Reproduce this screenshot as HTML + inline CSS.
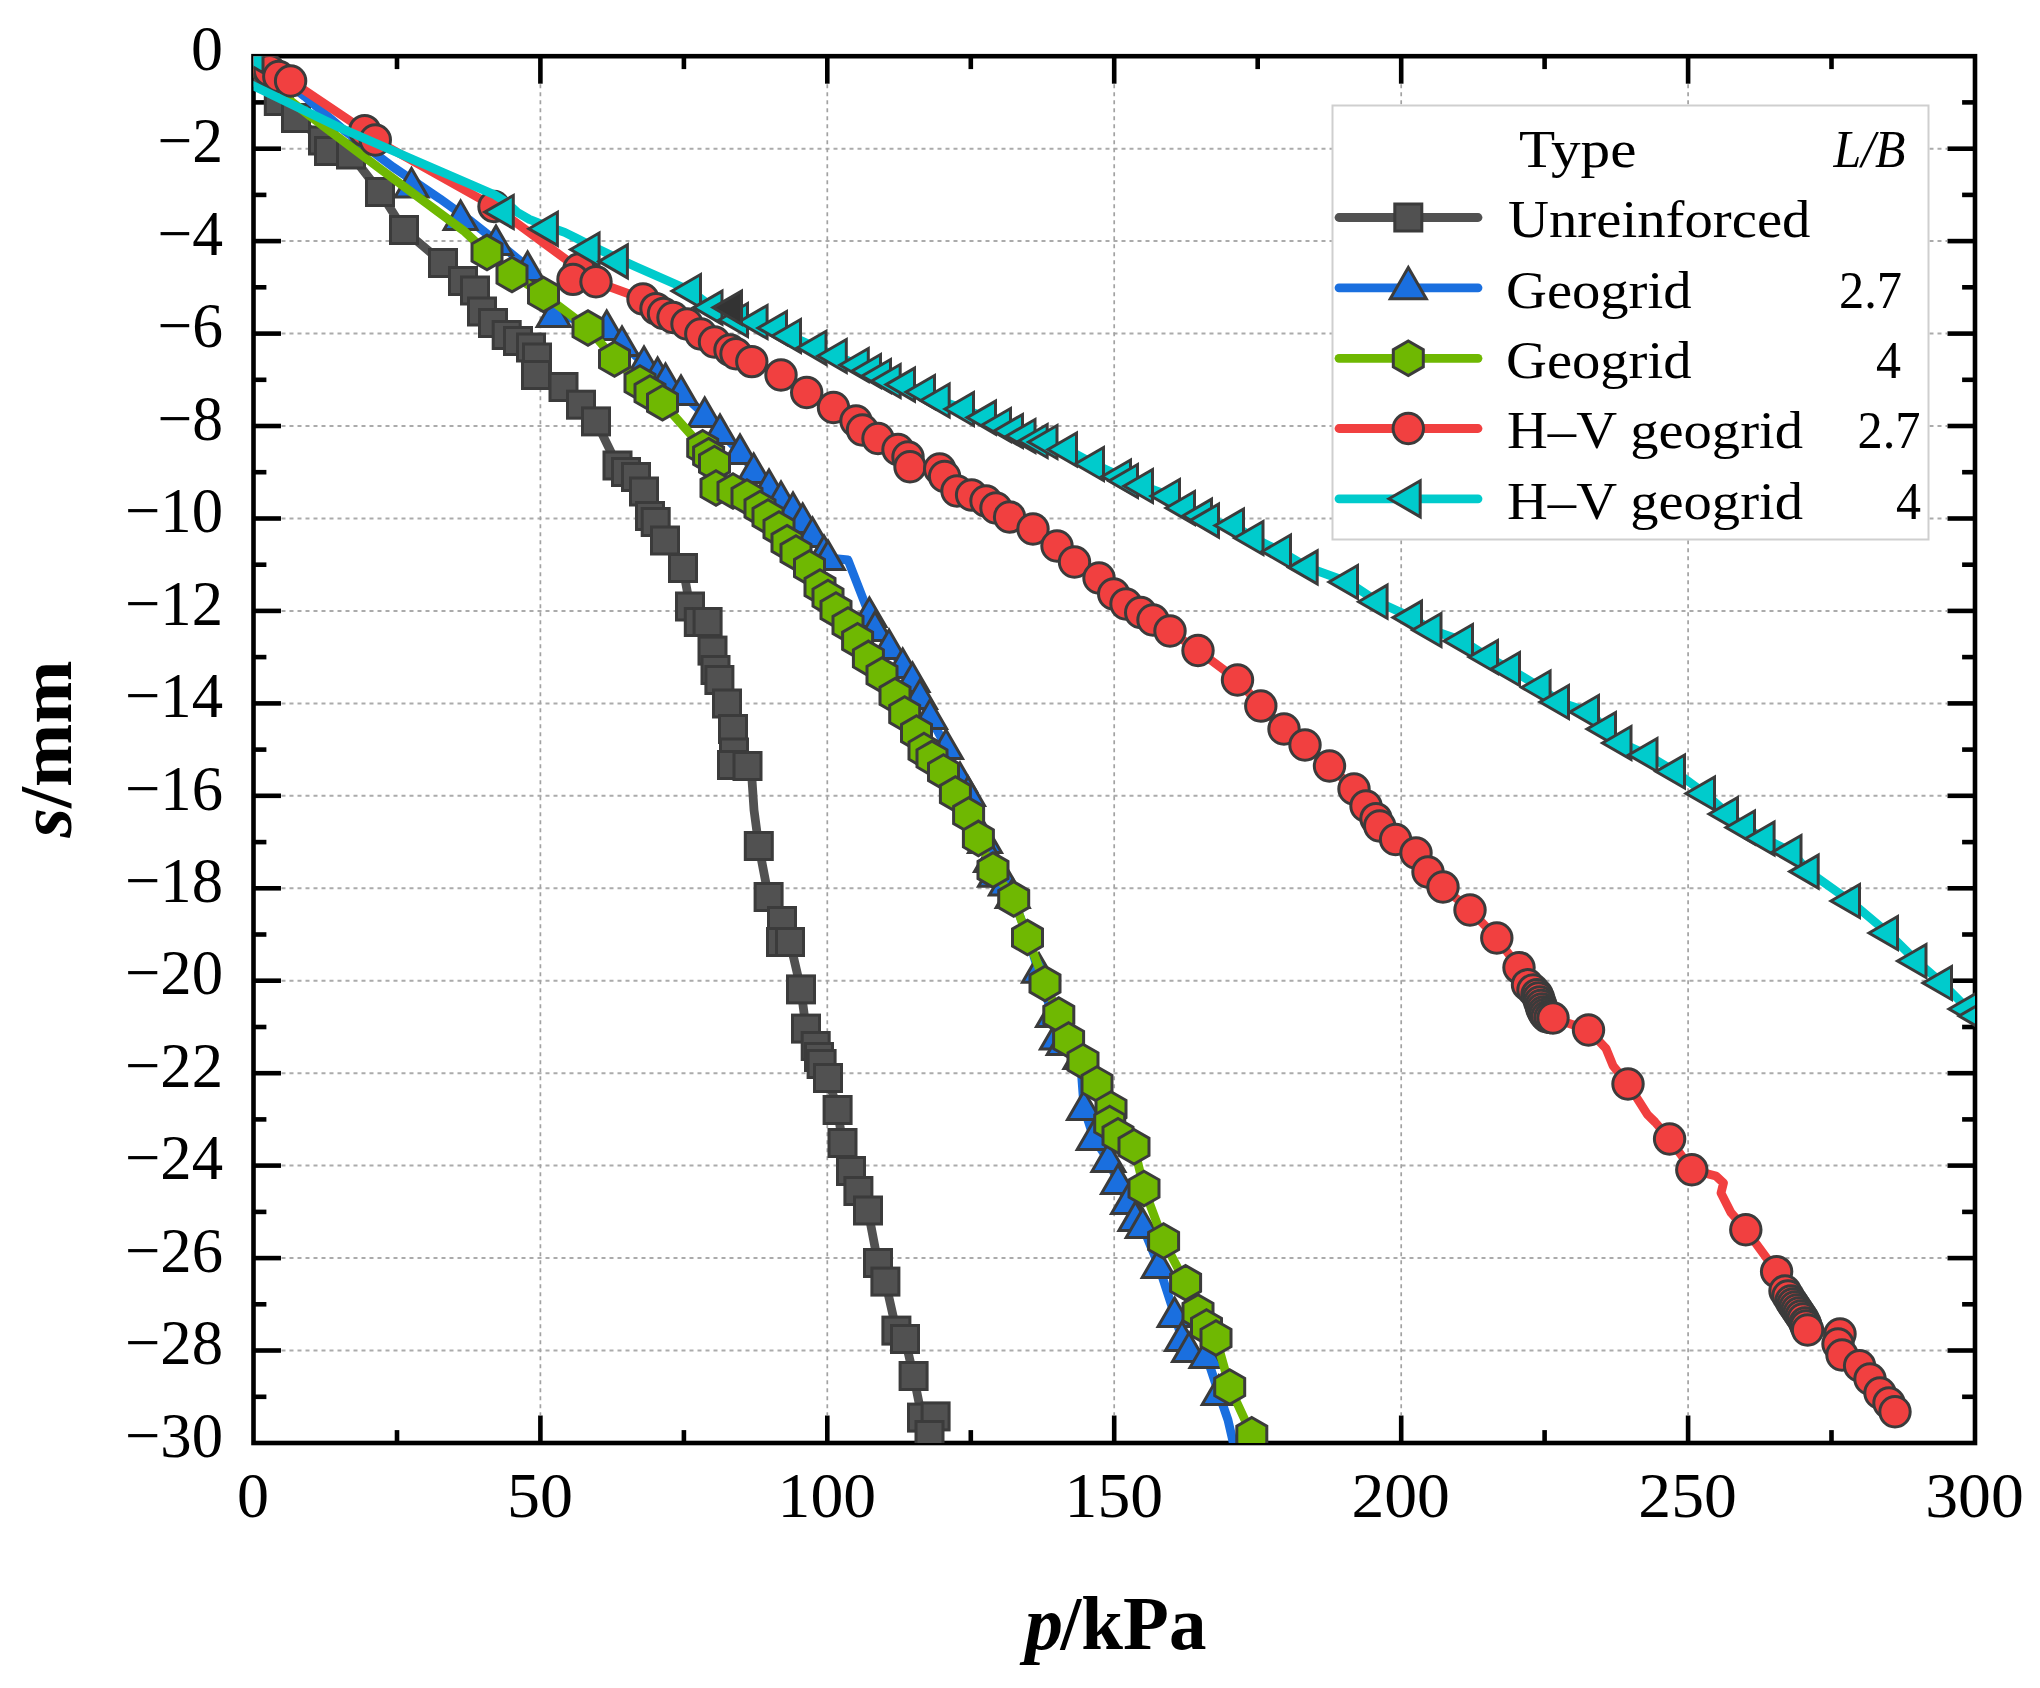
<!DOCTYPE html>
<html lang="en"><head><meta charset="utf-8"><title>Load-settlement curves</title>
<style>html,body{margin:0;padding:0;background:#fff}svg{display:block}text{font-family:"Liberation Serif","DejaVu Serif",serif;fill:#000}</style></head><body>
<svg width="2040" height="1688" viewBox="0 0 2040 1688">
<rect width="2040" height="1688" fill="#fff"/>
<defs><clipPath id="plot"><rect x="253.5" y="56.2" width="1721.5" height="1386.8"/></clipPath></defs>
<g stroke="#ababab" stroke-width="2" stroke-dasharray="4 4" fill="none">
<line x1="281.5" y1="1350.5" x2="1947" y2="1350.5"/>
<line x1="281.5" y1="1258.1" x2="1947" y2="1258.1"/>
<line x1="281.5" y1="1165.6" x2="1947" y2="1165.6"/>
<line x1="281.5" y1="1073.2" x2="1947" y2="1073.2"/>
<line x1="281.5" y1="980.7" x2="1947" y2="980.7"/>
<line x1="281.5" y1="888.3" x2="1947" y2="888.3"/>
<line x1="281.5" y1="795.8" x2="1947" y2="795.8"/>
<line x1="281.5" y1="703.4" x2="1947" y2="703.4"/>
<line x1="281.5" y1="610.9" x2="1947" y2="610.9"/>
<line x1="281.5" y1="518.5" x2="1947" y2="518.5"/>
<line x1="281.5" y1="426" x2="1947" y2="426"/>
<line x1="281.5" y1="333.6" x2="1947" y2="333.6"/>
<line x1="281.5" y1="241.1" x2="1947" y2="241.1"/>
<line x1="281.5" y1="148.7" x2="1947" y2="148.7"/>
</g>
<g stroke="#a2a2a2" stroke-width="1.7" stroke-dasharray="4 4" fill="none">
<line x1="540.4" y1="84.2" x2="540.4" y2="1415"/>
<line x1="827.3" y1="84.2" x2="827.3" y2="1415"/>
<line x1="1114.2" y1="84.2" x2="1114.2" y2="1415"/>
<line x1="1401.2" y1="84.2" x2="1401.2" y2="1415"/>
<line x1="1688.1" y1="84.2" x2="1688.1" y2="1415"/>
</g>
<g stroke="#000" stroke-width="4.6" fill="none" stroke-linecap="butt">
<line x1="253.5" y1="102.4" x2="266.4" y2="102.4"/>
<line x1="1975" y1="102.4" x2="1962.1" y2="102.4"/>
<line x1="253.5" y1="148.7" x2="281" y2="148.7"/>
<line x1="1975" y1="148.7" x2="1947.5" y2="148.7"/>
<line x1="253.5" y1="194.9" x2="266.4" y2="194.9"/>
<line x1="1975" y1="194.9" x2="1962.1" y2="194.9"/>
<line x1="253.5" y1="241.1" x2="281" y2="241.1"/>
<line x1="1975" y1="241.1" x2="1947.5" y2="241.1"/>
<line x1="253.5" y1="287.3" x2="266.4" y2="287.3"/>
<line x1="1975" y1="287.3" x2="1962.1" y2="287.3"/>
<line x1="253.5" y1="333.6" x2="281" y2="333.6"/>
<line x1="1975" y1="333.6" x2="1947.5" y2="333.6"/>
<line x1="253.5" y1="379.8" x2="266.4" y2="379.8"/>
<line x1="1975" y1="379.8" x2="1962.1" y2="379.8"/>
<line x1="253.5" y1="426" x2="281" y2="426"/>
<line x1="1975" y1="426" x2="1947.5" y2="426"/>
<line x1="253.5" y1="472.2" x2="266.4" y2="472.2"/>
<line x1="1975" y1="472.2" x2="1962.1" y2="472.2"/>
<line x1="253.5" y1="518.5" x2="281" y2="518.5"/>
<line x1="1975" y1="518.5" x2="1947.5" y2="518.5"/>
<line x1="253.5" y1="564.7" x2="266.4" y2="564.7"/>
<line x1="1975" y1="564.7" x2="1962.1" y2="564.7"/>
<line x1="253.5" y1="610.9" x2="281" y2="610.9"/>
<line x1="1975" y1="610.9" x2="1947.5" y2="610.9"/>
<line x1="253.5" y1="657.1" x2="266.4" y2="657.1"/>
<line x1="1975" y1="657.1" x2="1962.1" y2="657.1"/>
<line x1="253.5" y1="703.4" x2="281" y2="703.4"/>
<line x1="1975" y1="703.4" x2="1947.5" y2="703.4"/>
<line x1="253.5" y1="749.6" x2="266.4" y2="749.6"/>
<line x1="1975" y1="749.6" x2="1962.1" y2="749.6"/>
<line x1="253.5" y1="795.8" x2="281" y2="795.8"/>
<line x1="1975" y1="795.8" x2="1947.5" y2="795.8"/>
<line x1="253.5" y1="842.1" x2="266.4" y2="842.1"/>
<line x1="1975" y1="842.1" x2="1962.1" y2="842.1"/>
<line x1="253.5" y1="888.3" x2="281" y2="888.3"/>
<line x1="1975" y1="888.3" x2="1947.5" y2="888.3"/>
<line x1="253.5" y1="934.5" x2="266.4" y2="934.5"/>
<line x1="1975" y1="934.5" x2="1962.1" y2="934.5"/>
<line x1="253.5" y1="980.7" x2="281" y2="980.7"/>
<line x1="1975" y1="980.7" x2="1947.5" y2="980.7"/>
<line x1="253.5" y1="1027" x2="266.4" y2="1027"/>
<line x1="1975" y1="1027" x2="1962.1" y2="1027"/>
<line x1="253.5" y1="1073.2" x2="281" y2="1073.2"/>
<line x1="1975" y1="1073.2" x2="1947.5" y2="1073.2"/>
<line x1="253.5" y1="1119.4" x2="266.4" y2="1119.4"/>
<line x1="1975" y1="1119.4" x2="1962.1" y2="1119.4"/>
<line x1="253.5" y1="1165.6" x2="281" y2="1165.6"/>
<line x1="1975" y1="1165.6" x2="1947.5" y2="1165.6"/>
<line x1="253.5" y1="1211.9" x2="266.4" y2="1211.9"/>
<line x1="1975" y1="1211.9" x2="1962.1" y2="1211.9"/>
<line x1="253.5" y1="1258.1" x2="281" y2="1258.1"/>
<line x1="1975" y1="1258.1" x2="1947.5" y2="1258.1"/>
<line x1="253.5" y1="1304.3" x2="266.4" y2="1304.3"/>
<line x1="1975" y1="1304.3" x2="1962.1" y2="1304.3"/>
<line x1="253.5" y1="1350.5" x2="281" y2="1350.5"/>
<line x1="1975" y1="1350.5" x2="1947.5" y2="1350.5"/>
<line x1="253.5" y1="1396.8" x2="266.4" y2="1396.8"/>
<line x1="1975" y1="1396.8" x2="1962.1" y2="1396.8"/>
<line x1="397" y1="56.2" x2="397" y2="69.1"/>
<line x1="397" y1="1443" x2="397" y2="1430.1"/>
<line x1="540.4" y1="56.2" x2="540.4" y2="83.7"/>
<line x1="540.4" y1="1443" x2="540.4" y2="1415.5"/>
<line x1="683.9" y1="56.2" x2="683.9" y2="69.1"/>
<line x1="683.9" y1="1443" x2="683.9" y2="1430.1"/>
<line x1="827.3" y1="56.2" x2="827.3" y2="83.7"/>
<line x1="827.3" y1="1443" x2="827.3" y2="1415.5"/>
<line x1="970.8" y1="56.2" x2="970.8" y2="69.1"/>
<line x1="970.8" y1="1443" x2="970.8" y2="1430.1"/>
<line x1="1114.2" y1="56.2" x2="1114.2" y2="83.7"/>
<line x1="1114.2" y1="1443" x2="1114.2" y2="1415.5"/>
<line x1="1257.7" y1="56.2" x2="1257.7" y2="69.1"/>
<line x1="1257.7" y1="1443" x2="1257.7" y2="1430.1"/>
<line x1="1401.2" y1="56.2" x2="1401.2" y2="83.7"/>
<line x1="1401.2" y1="1443" x2="1401.2" y2="1415.5"/>
<line x1="1544.6" y1="56.2" x2="1544.6" y2="69.1"/>
<line x1="1544.6" y1="1443" x2="1544.6" y2="1430.1"/>
<line x1="1688.1" y1="56.2" x2="1688.1" y2="83.7"/>
<line x1="1688.1" y1="1443" x2="1688.1" y2="1415.5"/>
<line x1="1831.5" y1="56.2" x2="1831.5" y2="69.1"/>
<line x1="1831.5" y1="1443" x2="1831.5" y2="1430.1"/>
<rect x="253.5" y="56.2" width="1721.5" height="1386.8" stroke-linejoin="miter"/>
</g>
<g clip-path="url(#plot)">
<g id="s-gray">
<polyline points="253.5,56.2 262,72 278.8,101 296,118 323,140.5 329,151 351,154.5 380,192 404,230 443,263 463,281 475,290.5 482,311.5 493,323 506.7,335 518,341 531,347.5 537,357.5 536,375 563.5,387 581,404.7 596,421.4 617.5,465.5 626,472 636,477 644,491.5 650,516 655.7,522 665,540.5 683,568 690,606.5 698.8,622 707.6,622 712.5,650.6 715.5,670 719.4,680 727,703.5 733,729 734,752.5 732,765 747.5,766 752,780 754,810 758.8,846 768.6,897 782,921 781,942 790,942 801,989.4 806,1028.6 815.7,1046 819,1057 821.6,1064 828,1078 837.6,1110 842.5,1143 851,1171 858.4,1191 868,1210.5 878,1263 885.4,1281.6 896.4,1330.6 905,1339 913.6,1376 922,1417.6 935.6,1416.4 929.5,1435 940,1446" fill="none" stroke="#515151" stroke-width="8.8" stroke-linejoin="round" stroke-linecap="round"/>
<g stroke="#3b3b3b" stroke-width="3.0" stroke-linejoin="miter">
<rect x="248.5" y="58.5" width="27" height="27" fill="#515151"/>
<rect x="265.3" y="87.5" width="27" height="27" fill="#515151"/>
<rect x="282.5" y="104.5" width="27" height="27" fill="#515151"/>
<rect x="309.5" y="127" width="27" height="27" fill="#515151"/>
<rect x="315.5" y="137.5" width="27" height="27" fill="#515151"/>
<rect x="337.5" y="141" width="27" height="27" fill="#515151"/>
<rect x="366.5" y="178.5" width="27" height="27" fill="#515151"/>
<rect x="390.5" y="216.5" width="27" height="27" fill="#515151"/>
<rect x="429.5" y="249.5" width="27" height="27" fill="#515151"/>
<rect x="449.5" y="267.5" width="27" height="27" fill="#515151"/>
<rect x="461.5" y="277" width="27" height="27" fill="#515151"/>
<rect x="468.5" y="298" width="27" height="27" fill="#515151"/>
<rect x="479.5" y="309.5" width="27" height="27" fill="#515151"/>
<rect x="493.2" y="321.5" width="27" height="27" fill="#515151"/>
<rect x="504.5" y="327.5" width="27" height="27" fill="#515151"/>
<rect x="517.5" y="334" width="27" height="27" fill="#515151"/>
<rect x="523.5" y="344" width="27" height="27" fill="#515151"/>
<rect x="522.5" y="361.5" width="27" height="27" fill="#515151"/>
<rect x="550" y="373.5" width="27" height="27" fill="#515151"/>
<rect x="567.5" y="391.2" width="27" height="27" fill="#515151"/>
<rect x="582.5" y="407.9" width="27" height="27" fill="#515151"/>
<rect x="604" y="452" width="27" height="27" fill="#515151"/>
<rect x="612.5" y="458.5" width="27" height="27" fill="#515151"/>
<rect x="622.5" y="463.5" width="27" height="27" fill="#515151"/>
<rect x="630.5" y="478" width="27" height="27" fill="#515151"/>
<rect x="636.5" y="502.5" width="27" height="27" fill="#515151"/>
<rect x="642.2" y="508.5" width="27" height="27" fill="#515151"/>
<rect x="651.5" y="527" width="27" height="27" fill="#515151"/>
<rect x="669.5" y="554.5" width="27" height="27" fill="#515151"/>
<rect x="676.5" y="593" width="27" height="27" fill="#515151"/>
<rect x="685.3" y="608.5" width="27" height="27" fill="#515151"/>
<rect x="694.1" y="608.5" width="27" height="27" fill="#515151"/>
<rect x="699" y="637.1" width="27" height="27" fill="#515151"/>
<rect x="702" y="656.5" width="27" height="27" fill="#515151"/>
<rect x="705.9" y="666.5" width="27" height="27" fill="#515151"/>
<rect x="713.5" y="690" width="27" height="27" fill="#515151"/>
<rect x="719.5" y="715.5" width="27" height="27" fill="#515151"/>
<rect x="720.5" y="739" width="27" height="27" fill="#515151"/>
<rect x="718.5" y="751.5" width="27" height="27" fill="#515151"/>
<rect x="734" y="752.5" width="27" height="27" fill="#515151"/>
<rect x="745.3" y="832.5" width="27" height="27" fill="#515151"/>
<rect x="755.1" y="883.5" width="27" height="27" fill="#515151"/>
<rect x="768.5" y="907.5" width="27" height="27" fill="#515151"/>
<rect x="767.5" y="928.5" width="27" height="27" fill="#515151"/>
<rect x="776.5" y="928.5" width="27" height="27" fill="#515151"/>
<rect x="787.5" y="975.9" width="27" height="27" fill="#515151"/>
<rect x="792.5" y="1015.1" width="27" height="27" fill="#515151"/>
<rect x="802.2" y="1032.5" width="27" height="27" fill="#515151"/>
<rect x="805.5" y="1043.5" width="27" height="27" fill="#515151"/>
<rect x="808.1" y="1050.5" width="27" height="27" fill="#515151"/>
<rect x="814.5" y="1064.5" width="27" height="27" fill="#515151"/>
<rect x="824.1" y="1096.5" width="27" height="27" fill="#515151"/>
<rect x="829" y="1129.5" width="27" height="27" fill="#515151"/>
<rect x="837.5" y="1157.5" width="27" height="27" fill="#515151"/>
<rect x="844.9" y="1177.5" width="27" height="27" fill="#515151"/>
<rect x="854.5" y="1197" width="27" height="27" fill="#515151"/>
<rect x="864.5" y="1249.5" width="27" height="27" fill="#515151"/>
<rect x="871.9" y="1268.1" width="27" height="27" fill="#515151"/>
<rect x="882.9" y="1317.1" width="27" height="27" fill="#515151"/>
<rect x="891.5" y="1325.5" width="27" height="27" fill="#515151"/>
<rect x="900.1" y="1362.5" width="27" height="27" fill="#515151"/>
<rect x="908.5" y="1404.1" width="27" height="27" fill="#515151"/>
<rect x="922.1" y="1402.9" width="27" height="27" fill="#515151"/>
<rect x="916" y="1421.5" width="27" height="27" fill="#515151"/>
</g></g>
<g id="s-blue">
<polyline points="253.5,56.2 304.7,96.5 346,131.8 393,167 440,198.8 469.4,220 496,241 527.6,267 553.7,314 606.7,327 622,343 644,363.5 657.6,375 665.5,381 681,393 704.7,414.5 720,432 740,451.8 753.7,471 769,487 781,498.8 793,510.6 802.7,522 812.5,536 824,553.7 828,558 848,560 869.4,615 875,629 889,646.7 902.7,666 912.5,680 920,697.6 930,717 946,746.7 960,782 968,796 972,818 985,843 991,862 995,876.7 1005.9,885.5 1012.7,898 1027,934 1039,972.7 1053,1017 1056.9,1039.4 1063.7,1045 1080.4,1059 1084,1107.6 1093.7,1138 1108.4,1160 1118,1182 1128,1202 1135.4,1219 1142.7,1226.5 1158.7,1265.7 1174.6,1314.7 1182,1339 1189,1350 1206.5,1356 1218.7,1393 1228,1420 1234,1446" fill="none" stroke="#1A6FDF" stroke-width="8.8" stroke-linejoin="round" stroke-linecap="round"/>
<g stroke="#3b3b3b" stroke-width="3.0" stroke-linejoin="miter">
<polygon points="411.5,168.5 428,197 395,197" fill="#1A6FDF"/>
<polygon points="460.6,201 477.1,229.5 444.1,229.5" fill="#1A6FDF"/>
<polygon points="496,226 512.5,254.5 479.5,254.5" fill="#1A6FDF"/>
<polygon points="527.6,252 544.1,280.5 511.1,280.5" fill="#1A6FDF"/>
<polygon points="553.7,298 570.2,326.5 537.2,326.5" fill="#1A6FDF"/>
<polygon points="606.7,311 623.2,339.5 590.2,339.5" fill="#1A6FDF"/>
<polygon points="622,327 638.5,355.5 605.5,355.5" fill="#1A6FDF"/>
<polygon points="644,347 660.5,375.5 627.5,375.5" fill="#1A6FDF"/>
<polygon points="657.6,358 674.1,386.5 641.1,386.5" fill="#1A6FDF"/>
<polygon points="665.5,364 682,392.5 649,392.5" fill="#1A6FDF"/>
<polygon points="681,376 697.5,404.5 664.5,404.5" fill="#1A6FDF"/>
<polygon points="704.7,398 721.2,426.5 688.2,426.5" fill="#1A6FDF"/>
<polygon points="720,415 736.5,443.5 703.5,443.5" fill="#1A6FDF"/>
<polygon points="740,435 756.5,463.5 723.5,463.5" fill="#1A6FDF"/>
<polygon points="753.7,454 770.2,482.5 737.2,482.5" fill="#1A6FDF"/>
<polygon points="769,470 785.5,498.5 752.5,498.5" fill="#1A6FDF"/>
<polygon points="781,482 797.5,510.5 764.5,510.5" fill="#1A6FDF"/>
<polygon points="793,493 809.5,521.5 776.5,521.5" fill="#1A6FDF"/>
<polygon points="802.7,504 819.2,532.5 786.2,532.5" fill="#1A6FDF"/>
<polygon points="812.5,518 829,546.5 796,546.5" fill="#1A6FDF"/>
<polygon points="824,536 840.5,564.5 807.5,564.5" fill="#1A6FDF"/>
<polygon points="828,541 844.5,569.5 811.5,569.5" fill="#1A6FDF"/>
<polygon points="869.4,598 885.9,626.5 852.9,626.5" fill="#1A6FDF"/>
<polygon points="875,612 891.5,640.5 858.5,640.5" fill="#1A6FDF"/>
<polygon points="889,630 905.5,658.5 872.5,658.5" fill="#1A6FDF"/>
<polygon points="902.7,649 919.2,677.5 886.2,677.5" fill="#1A6FDF"/>
<polygon points="912.5,663 929,691.5 896,691.5" fill="#1A6FDF"/>
<polygon points="920,680 936.5,708.5 903.5,708.5" fill="#1A6FDF"/>
<polygon points="930,700 946.5,728.5 913.5,728.5" fill="#1A6FDF"/>
<polygon points="946,730 962.5,758.5 929.5,758.5" fill="#1A6FDF"/>
<polygon points="960,763 976.5,791.5 943.5,791.5" fill="#1A6FDF"/>
<polygon points="968,777 984.5,805.5 951.5,805.5" fill="#1A6FDF"/>
<polygon points="985,824 1001.5,852.5 968.5,852.5" fill="#1A6FDF"/>
<polygon points="991,843 1007.5,871.5 974.5,871.5" fill="#1A6FDF"/>
<polygon points="995,857.7 1011.5,886.2 978.5,886.2" fill="#1A6FDF"/>
<polygon points="1005.9,866.5 1022.4,895 989.4,895" fill="#1A6FDF"/>
<polygon points="1012.7,879 1029.2,907.5 996.2,907.5" fill="#1A6FDF"/>
<polygon points="1039,953.7 1055.5,982.2 1022.5,982.2" fill="#1A6FDF"/>
<polygon points="1053,998 1069.5,1026.5 1036.5,1026.5" fill="#1A6FDF"/>
<polygon points="1056.9,1020.4 1073.4,1048.9 1040.4,1048.9" fill="#1A6FDF"/>
<polygon points="1063.7,1026 1080.2,1054.5 1047.2,1054.5" fill="#1A6FDF"/>
<polygon points="1080.4,1040 1096.9,1068.5 1063.9,1068.5" fill="#1A6FDF"/>
<polygon points="1084,1091 1100.5,1119.5 1067.5,1119.5" fill="#1A6FDF"/>
<polygon points="1093.7,1121 1110.2,1149.5 1077.2,1149.5" fill="#1A6FDF"/>
<polygon points="1108.4,1143 1124.9,1171.5 1091.9,1171.5" fill="#1A6FDF"/>
<polygon points="1118,1165 1134.5,1193.5 1101.5,1193.5" fill="#1A6FDF"/>
<polygon points="1128,1185 1144.5,1213.5 1111.5,1213.5" fill="#1A6FDF"/>
<polygon points="1135.4,1202 1151.9,1230.5 1118.9,1230.5" fill="#1A6FDF"/>
<polygon points="1142.7,1209 1159.2,1237.5 1126.2,1237.5" fill="#1A6FDF"/>
<polygon points="1158.7,1249 1175.2,1277.5 1142.2,1277.5" fill="#1A6FDF"/>
<polygon points="1174.6,1298 1191.1,1326.5 1158.1,1326.5" fill="#1A6FDF"/>
<polygon points="1182,1322 1198.5,1350.5 1165.5,1350.5" fill="#1A6FDF"/>
<polygon points="1189,1333 1205.5,1361.5 1172.5,1361.5" fill="#1A6FDF"/>
<polygon points="1206.5,1339 1223,1367.5 1190,1367.5" fill="#1A6FDF"/>
<polygon points="1218.7,1376 1235.2,1404.5 1202.2,1404.5" fill="#1A6FDF"/>
</g></g>
<g id="s-green">
<polyline points="253.5,72 310.6,116.5 381,169.4 463.5,230.6 487,252.4 512,274.5 543.5,294.5 588,328 614.5,359 640,383 650,393 662.5,402.7 702.7,447.8 708.6,455.7 714.5,463.5 716,488 733,491 747,497 760,508.5 768,517 779,529 787,542.7 796,553 809.5,568 820,587 828,597.6 836,610 848,625 857.6,640.8 868.4,658.4 882,675 895,695.7 904.7,714 916.5,733 924,750.6 932,758.4 943.5,772 955.4,794 968.6,815 978.4,838.4 993,870 1013.7,899 1027.5,937.5 1045,983.5 1058.8,1015 1068.6,1040 1083,1061.5 1097,1084 1111,1109 1109.7,1123.5 1118,1135.8 1134,1146.8 1144,1188.5 1163.6,1241 1185.6,1282.8 1198,1312 1206.5,1327 1216,1338 1229.7,1387 1251.8,1434.8 1255,1446" fill="none" stroke="#6FB802" stroke-width="8.8" stroke-linejoin="round" stroke-linecap="round"/>
<g stroke="#3b3b3b" stroke-width="3.0" stroke-linejoin="miter">
<polygon points="487,235.1 502,243.8 502,261.1 487,269.7 472,261.1 472,243.8" fill="#6FB802"/>
<polygon points="512,257.2 527,265.9 527,283.1 512,291.8 497,283.2 497,265.9" fill="#6FB802"/>
<polygon points="543.5,277.2 558.5,285.9 558.5,303.1 543.5,311.8 528.5,303.2 528.5,285.9" fill="#6FB802"/>
<polygon points="588,310.7 603,319.4 603,336.6 588,345.3 573,336.7 573,319.4" fill="#6FB802"/>
<polygon points="614.5,341.7 629.5,350.4 629.5,367.6 614.5,376.3 599.5,367.7 599.5,350.4" fill="#6FB802"/>
<polygon points="640,365.7 655,374.4 655,391.6 640,400.3 625,391.7 625,374.4" fill="#6FB802"/>
<polygon points="650,375.7 665,384.4 665,401.6 650,410.3 635,401.7 635,384.4" fill="#6FB802"/>
<polygon points="662.5,385.4 677.5,394.1 677.5,411.3 662.5,420 647.5,411.4 647.5,394.1" fill="#6FB802"/>
<polygon points="702.7,430.5 717.7,439.2 717.7,456.4 702.7,465.1 687.7,456.5 687.7,439.2" fill="#6FB802"/>
<polygon points="708.6,438.4 723.6,447.1 723.6,464.3 708.6,473 693.6,464.4 693.6,447.1" fill="#6FB802"/>
<polygon points="714.5,446.2 729.5,454.9 729.5,472.1 714.5,480.8 699.5,472.2 699.5,454.9" fill="#6FB802"/>
<polygon points="716,470.7 731,479.4 731,496.6 716,505.3 701,496.7 701,479.4" fill="#6FB802"/>
<polygon points="733,473.7 748,482.4 748,499.6 733,508.3 718,499.7 718,482.4" fill="#6FB802"/>
<polygon points="747,479.7 762,488.4 762,505.6 747,514.3 732,505.7 732,488.4" fill="#6FB802"/>
<polygon points="760,491.2 775,499.9 775,517.1 760,525.8 745,517.1 745,499.9" fill="#6FB802"/>
<polygon points="768,499.7 783,508.4 783,525.6 768,534.3 753,525.6 753,508.4" fill="#6FB802"/>
<polygon points="779,511.7 794,520.4 794,537.6 779,546.3 764,537.6 764,520.4" fill="#6FB802"/>
<polygon points="787,525.4 802,534.1 802,551.4 787,560 772,551.4 772,534.1" fill="#6FB802"/>
<polygon points="796,535.7 811,544.4 811,561.6 796,570.3 781,561.6 781,544.4" fill="#6FB802"/>
<polygon points="809.5,550.7 824.5,559.4 824.5,576.6 809.5,585.3 794.5,576.6 794.5,559.4" fill="#6FB802"/>
<polygon points="820,569.7 835,578.4 835,595.6 820,604.3 805,595.6 805,578.4" fill="#6FB802"/>
<polygon points="828,580.3 843,589 843,606.2 828,614.9 813,606.2 813,589" fill="#6FB802"/>
<polygon points="836,592.7 851,601.4 851,618.6 836,627.3 821,618.6 821,601.4" fill="#6FB802"/>
<polygon points="848,607.7 863,616.4 863,633.6 848,642.3 833,633.6 833,616.4" fill="#6FB802"/>
<polygon points="857.6,623.5 872.6,632.1 872.6,649.4 857.6,658.1 842.6,649.4 842.6,632.1" fill="#6FB802"/>
<polygon points="868.4,641.1 883.4,649.8 883.4,667 868.4,675.7 853.4,667 853.4,649.8" fill="#6FB802"/>
<polygon points="882,657.7 897,666.4 897,683.6 882,692.3 867,683.6 867,666.4" fill="#6FB802"/>
<polygon points="895,678.4 910,687.1 910,704.4 895,713 880,704.4 880,687.1" fill="#6FB802"/>
<polygon points="904.7,696.7 919.7,705.4 919.7,722.6 904.7,731.3 889.7,722.6 889.7,705.4" fill="#6FB802"/>
<polygon points="916.5,715.7 931.5,724.4 931.5,741.6 916.5,750.3 901.5,741.6 901.5,724.4" fill="#6FB802"/>
<polygon points="924,733.3 939,742 939,759.2 924,767.9 909,759.2 909,742" fill="#6FB802"/>
<polygon points="932,741.1 947,749.8 947,767 932,775.7 917,767 917,749.8" fill="#6FB802"/>
<polygon points="943.5,754.7 958.5,763.4 958.5,780.6 943.5,789.3 928.5,780.6 928.5,763.4" fill="#6FB802"/>
<polygon points="955.4,776.7 970.4,785.4 970.4,802.6 955.4,811.3 940.4,802.6 940.4,785.4" fill="#6FB802"/>
<polygon points="968.6,797.7 983.6,806.4 983.6,823.6 968.6,832.3 953.6,823.6 953.6,806.4" fill="#6FB802"/>
<polygon points="978.4,821.1 993.4,829.8 993.4,847 978.4,855.7 963.4,847 963.4,829.8" fill="#6FB802"/>
<polygon points="993,852.7 1008,861.4 1008,878.6 993,887.3 978,878.6 978,861.4" fill="#6FB802"/>
<polygon points="1013.7,881.7 1028.7,890.4 1028.7,907.6 1013.7,916.3 998.7,907.6 998.7,890.4" fill="#6FB802"/>
<polygon points="1027.5,920.2 1042.5,928.9 1042.5,946.1 1027.5,954.8 1012.5,946.1 1012.5,928.9" fill="#6FB802"/>
<polygon points="1045,966.2 1060,974.9 1060,992.1 1045,1000.8 1030,992.1 1030,974.9" fill="#6FB802"/>
<polygon points="1058.8,997.7 1073.8,1006.4 1073.8,1023.6 1058.8,1032.3 1043.8,1023.6 1043.8,1006.4" fill="#6FB802"/>
<polygon points="1068.6,1022.7 1083.6,1031.3 1083.6,1048.7 1068.6,1057.3 1053.6,1048.7 1053.6,1031.3" fill="#6FB802"/>
<polygon points="1083,1044.2 1098,1052.8 1098,1070.2 1083,1078.8 1068,1070.2 1068,1052.8" fill="#6FB802"/>
<polygon points="1097,1066.7 1112,1075.3 1112,1092.7 1097,1101.3 1082,1092.7 1082,1075.3" fill="#6FB802"/>
<polygon points="1111,1091.7 1126,1100.3 1126,1117.7 1111,1126.3 1096,1117.7 1096,1100.3" fill="#6FB802"/>
<polygon points="1109.7,1106.2 1124.7,1114.8 1124.7,1132.2 1109.7,1140.8 1094.7,1132.2 1094.7,1114.8" fill="#6FB802"/>
<polygon points="1118,1118.5 1133,1127.1 1133,1144.5 1118,1153.1 1103,1144.5 1103,1127.1" fill="#6FB802"/>
<polygon points="1134,1129.5 1149,1138.1 1149,1155.5 1134,1164.1 1119,1155.5 1119,1138.1" fill="#6FB802"/>
<polygon points="1144,1171.2 1159,1179.8 1159,1197.2 1144,1205.8 1129,1197.2 1129,1179.8" fill="#6FB802"/>
<polygon points="1163.6,1223.7 1178.6,1232.3 1178.6,1249.7 1163.6,1258.3 1148.6,1249.7 1148.6,1232.3" fill="#6FB802"/>
<polygon points="1185.6,1265.5 1200.6,1274.1 1200.6,1291.5 1185.6,1300.1 1170.6,1291.5 1170.6,1274.1" fill="#6FB802"/>
<polygon points="1198,1294.7 1213,1303.3 1213,1320.7 1198,1329.3 1183,1320.7 1183,1303.3" fill="#6FB802"/>
<polygon points="1206.5,1309.7 1221.5,1318.3 1221.5,1335.7 1206.5,1344.3 1191.5,1335.7 1191.5,1318.3" fill="#6FB802"/>
<polygon points="1216,1320.7 1231,1329.3 1231,1346.7 1216,1355.3 1201,1346.7 1201,1329.3" fill="#6FB802"/>
<polygon points="1229.7,1369.7 1244.7,1378.3 1244.7,1395.7 1229.7,1404.3 1214.7,1395.7 1214.7,1378.3" fill="#6FB802"/>
<polygon points="1251.8,1417.5 1266.8,1426.1 1266.8,1443.5 1251.8,1452.1 1236.8,1443.5 1236.8,1426.1" fill="#6FB802"/>
</g></g>
<g id="s-red">
<polyline points="253.5,56.2 258,60 264,65 269.4,70.6 278.8,76.5 290.6,81 364.7,130.6 375.3,140 494,206.5 579,269 573,279.4 596,281.8 643,299 656,308.6 663.5,313.5 673,317.5 687,324 700.8,334 714.5,342 730,350 736,353.7 751.8,361.6 781,375 806.7,392.5 833.5,407.5 856,421 862.5,430 878,438.5 898,449.5 908,457 910,466.7 939.7,469 944.6,476.5 957,491 971.6,495 986,501 996,508 1009.6,517 1033,529 1057,546 1074.5,562 1099,578 1113.7,594 1126,604 1140.7,612.5 1153,620 1170,631 1198,650.5 1237.5,680 1260.8,706 1284,729 1305,745 1329.5,766 1354,789 1366,806 1376,818.6 1379.7,826 1395.6,839.5 1416,853 1428,872 1443,887 1470,910 1496.8,938 1519,967.6 1527.5,984.8 1533,990 1537,994.6 1538.5,998 1539.7,1002 1541,1005.5 1542,1009 1543.5,1012 1545,1014.5 1547,1016.7 1550,1017.5 1553,1018 1588.5,1030 1606,1048.5 1613,1065.7 1628,1084 1647.5,1114.7 1655,1122 1669.6,1139 1691.8,1169.8 1716,1176 1723.5,1183 1721,1193 1731,1212.7 1745.8,1229.7 1776.6,1271.6 1785,1291 1788,1296 1791,1301 1793,1304 1795,1307 1797,1310 1799,1313 1801,1316 1803,1319 1805,1323 1806,1326 1807.6,1330 1840,1334 1838,1344 1842,1355 1859.6,1365.7 1870,1379 1880,1393 1889,1403 1895,1411.8" fill="none" stroke="#F14040" stroke-width="8.8" stroke-linejoin="round" stroke-linecap="round"/>
<g stroke="#3b3b3b" stroke-width="3.0" stroke-linejoin="miter">
<circle cx="258" cy="60" r="15.2" fill="#F14040"/>
<circle cx="264" cy="65" r="15.2" fill="#F14040"/>
<circle cx="269.4" cy="70.6" r="15.2" fill="#F14040"/>
<circle cx="278.8" cy="76.5" r="15.2" fill="#F14040"/>
<circle cx="290.6" cy="81" r="15.2" fill="#F14040"/>
<circle cx="364.7" cy="130.6" r="15.2" fill="#F14040"/>
<circle cx="375.3" cy="140" r="15.2" fill="#F14040"/>
<circle cx="494" cy="206.5" r="15.2" fill="#F14040"/>
<circle cx="579" cy="269" r="15.2" fill="#F14040"/>
<circle cx="573" cy="279.4" r="15.2" fill="#F14040"/>
<circle cx="596" cy="281.8" r="15.2" fill="#F14040"/>
<circle cx="643" cy="299" r="15.2" fill="#F14040"/>
<circle cx="656" cy="308.6" r="15.2" fill="#F14040"/>
<circle cx="663.5" cy="313.5" r="15.2" fill="#F14040"/>
<circle cx="673" cy="317.5" r="15.2" fill="#F14040"/>
<circle cx="687" cy="324" r="15.2" fill="#F14040"/>
<circle cx="700.8" cy="334" r="15.2" fill="#F14040"/>
<circle cx="714.5" cy="342" r="15.2" fill="#F14040"/>
<circle cx="730" cy="350" r="15.2" fill="#F14040"/>
<circle cx="736" cy="353.7" r="15.2" fill="#F14040"/>
<circle cx="751.8" cy="361.6" r="15.2" fill="#F14040"/>
<circle cx="781" cy="375" r="15.2" fill="#F14040"/>
<circle cx="806.7" cy="392.5" r="15.2" fill="#F14040"/>
<circle cx="833.5" cy="407.5" r="15.2" fill="#F14040"/>
<circle cx="856" cy="421" r="15.2" fill="#F14040"/>
<circle cx="862.5" cy="430" r="15.2" fill="#F14040"/>
<circle cx="878" cy="438.5" r="15.2" fill="#F14040"/>
<circle cx="898" cy="449.5" r="15.2" fill="#F14040"/>
<circle cx="908" cy="457" r="15.2" fill="#F14040"/>
<circle cx="910" cy="466.7" r="15.2" fill="#F14040"/>
<circle cx="939.7" cy="469" r="15.2" fill="#F14040"/>
<circle cx="944.6" cy="476.5" r="15.2" fill="#F14040"/>
<circle cx="957" cy="491" r="15.2" fill="#F14040"/>
<circle cx="971.6" cy="495" r="15.2" fill="#F14040"/>
<circle cx="986" cy="501" r="15.2" fill="#F14040"/>
<circle cx="996" cy="508" r="15.2" fill="#F14040"/>
<circle cx="1009.6" cy="517" r="15.2" fill="#F14040"/>
<circle cx="1033" cy="529" r="15.2" fill="#F14040"/>
<circle cx="1057" cy="546" r="15.2" fill="#F14040"/>
<circle cx="1074.5" cy="562" r="15.2" fill="#F14040"/>
<circle cx="1099" cy="578" r="15.2" fill="#F14040"/>
<circle cx="1113.7" cy="594" r="15.2" fill="#F14040"/>
<circle cx="1126" cy="604" r="15.2" fill="#F14040"/>
<circle cx="1140.7" cy="612.5" r="15.2" fill="#F14040"/>
<circle cx="1153" cy="620" r="15.2" fill="#F14040"/>
<circle cx="1170" cy="631" r="15.2" fill="#F14040"/>
<circle cx="1198" cy="650.5" r="15.2" fill="#F14040"/>
<circle cx="1237.5" cy="680" r="15.2" fill="#F14040"/>
<circle cx="1260.8" cy="706" r="15.2" fill="#F14040"/>
<circle cx="1284" cy="729" r="15.2" fill="#F14040"/>
<circle cx="1305" cy="745" r="15.2" fill="#F14040"/>
<circle cx="1329.5" cy="766" r="15.2" fill="#F14040"/>
<circle cx="1354" cy="789" r="15.2" fill="#F14040"/>
<circle cx="1366" cy="806" r="15.2" fill="#F14040"/>
<circle cx="1376" cy="818.6" r="15.2" fill="#F14040"/>
<circle cx="1379.7" cy="826" r="15.2" fill="#F14040"/>
<circle cx="1395.6" cy="839.5" r="15.2" fill="#F14040"/>
<circle cx="1416" cy="853" r="15.2" fill="#F14040"/>
<circle cx="1428" cy="872" r="15.2" fill="#F14040"/>
<circle cx="1443" cy="887" r="15.2" fill="#F14040"/>
<circle cx="1470" cy="910" r="15.2" fill="#F14040"/>
<circle cx="1496.8" cy="938" r="15.2" fill="#F14040"/>
<circle cx="1519" cy="967.6" r="15.2" fill="#F14040"/>
<circle cx="1527.5" cy="984.8" r="15.2" fill="#F14040"/>
<circle cx="1533" cy="990" r="15.2" fill="#F14040"/>
<circle cx="1537" cy="994.6" r="15.2" fill="#F14040"/>
<circle cx="1538.5" cy="998" r="15.2" fill="#F14040"/>
<circle cx="1539.7" cy="1002" r="15.2" fill="#F14040"/>
<circle cx="1541" cy="1005.5" r="15.2" fill="#F14040"/>
<circle cx="1542" cy="1009" r="15.2" fill="#F14040"/>
<circle cx="1543.5" cy="1012" r="15.2" fill="#F14040"/>
<circle cx="1545" cy="1014.5" r="15.2" fill="#F14040"/>
<circle cx="1547" cy="1016.7" r="15.2" fill="#F14040"/>
<circle cx="1550" cy="1017.5" r="15.2" fill="#F14040"/>
<circle cx="1553" cy="1018" r="15.2" fill="#F14040"/>
<circle cx="1588.5" cy="1030" r="15.2" fill="#F14040"/>
<circle cx="1628" cy="1084" r="15.2" fill="#F14040"/>
<circle cx="1669.6" cy="1139" r="15.2" fill="#F14040"/>
<circle cx="1691.8" cy="1169.8" r="15.2" fill="#F14040"/>
<circle cx="1745.8" cy="1229.7" r="15.2" fill="#F14040"/>
<circle cx="1776.6" cy="1271.6" r="15.2" fill="#F14040"/>
<circle cx="1785" cy="1291" r="15.2" fill="#F14040"/>
<circle cx="1788" cy="1296" r="15.2" fill="#F14040"/>
<circle cx="1791" cy="1301" r="15.2" fill="#F14040"/>
<circle cx="1793" cy="1304" r="15.2" fill="#F14040"/>
<circle cx="1795" cy="1307" r="15.2" fill="#F14040"/>
<circle cx="1797" cy="1310" r="15.2" fill="#F14040"/>
<circle cx="1799" cy="1313" r="15.2" fill="#F14040"/>
<circle cx="1801" cy="1316" r="15.2" fill="#F14040"/>
<circle cx="1803" cy="1319" r="15.2" fill="#F14040"/>
<circle cx="1805" cy="1323" r="15.2" fill="#F14040"/>
<circle cx="1806" cy="1326" r="15.2" fill="#F14040"/>
<circle cx="1807.6" cy="1330" r="15.2" fill="#F14040"/>
<circle cx="1840" cy="1334" r="15.2" fill="#F14040"/>
<circle cx="1838" cy="1344" r="15.2" fill="#F14040"/>
<circle cx="1842" cy="1355" r="15.2" fill="#F14040"/>
<circle cx="1859.6" cy="1365.7" r="15.2" fill="#F14040"/>
<circle cx="1870" cy="1379" r="15.2" fill="#F14040"/>
<circle cx="1880" cy="1393" r="15.2" fill="#F14040"/>
<circle cx="1889" cy="1403" r="15.2" fill="#F14040"/>
<circle cx="1895" cy="1411.8" r="15.2" fill="#F14040"/>
</g></g>
<g id="s-cyan">
<polyline points="249,83.8 340,127.7 416.5,161 494.5,194.7 506,202 517.6,212.5 529.4,219.4 547.9,226.5 564.7,232.4 576.5,238.2 589.6,245 617.9,258.5 635.3,266.5 691,291 712.5,307.6 738,320 757.6,322 777,328 791,336 816.5,347.8 836.8,356 858.8,365 871,371 881,376 890.7,381 905,384.6 925,392 939.7,400.5 964,409 986,417.6 1001,425 1013,431 1025.5,436 1037.7,441 1047.5,442 1067,449.5 1094,464 1121,476.5 1128,481 1143,486 1170,496 1185,508 1202,515.7 1209,520.6 1234,525.5 1253.5,538 1281,551.5 1307.7,567.4 1348,582 1377.6,601.7 1412,617.6 1431.5,630 1463,641 1488,657 1510,669 1540.6,687.5 1559,702 1589,712 1606,729 1621.5,743 1647.5,755 1675,771.5 1705,793.5 1728,814 1745,827.5 1764.6,838.5 1791.5,852 1808.7,871.6 1850,901 1888,933 1916.5,961 1942,983 1968,1009 1978,1016 1990,1024" fill="none" stroke="#00CBCC" stroke-width="8.8" stroke-linejoin="round" stroke-linecap="round"/>
<g stroke="#3b3b3b" stroke-width="3.0" stroke-linejoin="miter">
<polygon points="234.5,56.2 263,39.7 263,72.7" fill="#00CBCC"/>
<polygon points="484.8,212 513.3,195.5 513.3,228.5" fill="#00CBCC"/>
<polygon points="528.9,228.8 557.4,212.3 557.4,245.3" fill="#00CBCC"/>
<polygon points="570.6,249.5 599.1,233 599.1,266" fill="#00CBCC"/>
<polygon points="598.9,261.4 627.4,244.9 627.4,277.9" fill="#00CBCC"/>
<polygon points="672,291 700.5,274.5 700.5,307.5" fill="#00CBCC"/>
<polygon points="693.5,307.6 722,291.1 722,324.1" fill="#00CBCC"/>
<polygon points="719,320 747.5,303.5 747.5,336.5" fill="#00CBCC"/>
<polygon points="738.6,322 767.1,305.5 767.1,338.5" fill="#00CBCC"/>
<polygon points="758,328 786.5,311.5 786.5,344.5" fill="#00CBCC"/>
<polygon points="772,336 800.5,319.5 800.5,352.5" fill="#00CBCC"/>
<polygon points="797.5,347.8 826,331.3 826,364.3" fill="#00CBCC"/>
<polygon points="817.8,356 846.3,339.5 846.3,372.5" fill="#00CBCC"/>
<polygon points="839.8,365 868.3,348.5 868.3,381.5" fill="#00CBCC"/>
<polygon points="852,371 880.5,354.5 880.5,387.5" fill="#00CBCC"/>
<polygon points="862,376 890.5,359.5 890.5,392.5" fill="#00CBCC"/>
<polygon points="871.7,381 900.2,364.5 900.2,397.5" fill="#00CBCC"/>
<polygon points="886,384.6 914.5,368.1 914.5,401.1" fill="#00CBCC"/>
<polygon points="906,392 934.5,375.5 934.5,408.5" fill="#00CBCC"/>
<polygon points="920.7,400.5 949.2,384 949.2,417" fill="#00CBCC"/>
<polygon points="945,409 973.5,392.5 973.5,425.5" fill="#00CBCC"/>
<polygon points="967,417.6 995.5,401.1 995.5,434.1" fill="#00CBCC"/>
<polygon points="982,425 1010.5,408.5 1010.5,441.5" fill="#00CBCC"/>
<polygon points="994,431 1022.5,414.5 1022.5,447.5" fill="#00CBCC"/>
<polygon points="1006.5,436 1035,419.5 1035,452.5" fill="#00CBCC"/>
<polygon points="1018.7,441 1047.2,424.5 1047.2,457.5" fill="#00CBCC"/>
<polygon points="1028.5,442 1057,425.5 1057,458.5" fill="#00CBCC"/>
<polygon points="1048,449.5 1076.5,433 1076.5,466" fill="#00CBCC"/>
<polygon points="1075,464 1103.5,447.5 1103.5,480.5" fill="#00CBCC"/>
<polygon points="1102,476.5 1130.5,460 1130.5,493" fill="#00CBCC"/>
<polygon points="1109,481 1137.5,464.5 1137.5,497.5" fill="#00CBCC"/>
<polygon points="1124,486 1152.5,469.5 1152.5,502.5" fill="#00CBCC"/>
<polygon points="1151,496 1179.5,479.5 1179.5,512.5" fill="#00CBCC"/>
<polygon points="1166,508 1194.5,491.5 1194.5,524.5" fill="#00CBCC"/>
<polygon points="1183,515.7 1211.5,499.2 1211.5,532.2" fill="#00CBCC"/>
<polygon points="1190,520.6 1218.5,504.1 1218.5,537.1" fill="#00CBCC"/>
<polygon points="1215,525.5 1243.5,509 1243.5,542" fill="#00CBCC"/>
<polygon points="1234.5,538 1263,521.5 1263,554.5" fill="#00CBCC"/>
<polygon points="1262,551.5 1290.5,535 1290.5,568" fill="#00CBCC"/>
<polygon points="1288.7,567.4 1317.2,550.9 1317.2,583.9" fill="#00CBCC"/>
<polygon points="1329,582 1357.5,565.5 1357.5,598.5" fill="#00CBCC"/>
<polygon points="1358.6,601.7 1387.1,585.2 1387.1,618.2" fill="#00CBCC"/>
<polygon points="1393,617.6 1421.5,601.1 1421.5,634.1" fill="#00CBCC"/>
<polygon points="1412.5,630 1441,613.5 1441,646.5" fill="#00CBCC"/>
<polygon points="1444,641 1472.5,624.5 1472.5,657.5" fill="#00CBCC"/>
<polygon points="1469,657 1497.5,640.5 1497.5,673.5" fill="#00CBCC"/>
<polygon points="1491,669 1519.5,652.5 1519.5,685.5" fill="#00CBCC"/>
<polygon points="1521.6,687.5 1550.1,671 1550.1,704" fill="#00CBCC"/>
<polygon points="1540,702 1568.5,685.5 1568.5,718.5" fill="#00CBCC"/>
<polygon points="1570,712 1598.5,695.5 1598.5,728.5" fill="#00CBCC"/>
<polygon points="1587,729 1615.5,712.5 1615.5,745.5" fill="#00CBCC"/>
<polygon points="1602.5,743 1631,726.5 1631,759.5" fill="#00CBCC"/>
<polygon points="1628.5,755 1657,738.5 1657,771.5" fill="#00CBCC"/>
<polygon points="1656,771.5 1684.5,755 1684.5,788" fill="#00CBCC"/>
<polygon points="1686,793.5 1714.5,777 1714.5,810" fill="#00CBCC"/>
<polygon points="1709,814 1737.5,797.5 1737.5,830.5" fill="#00CBCC"/>
<polygon points="1726,827.5 1754.5,811 1754.5,844" fill="#00CBCC"/>
<polygon points="1745.6,838.5 1774.1,822 1774.1,855" fill="#00CBCC"/>
<polygon points="1772.5,852 1801,835.5 1801,868.5" fill="#00CBCC"/>
<polygon points="1789.7,871.6 1818.2,855.1 1818.2,888.1" fill="#00CBCC"/>
<polygon points="1831,901 1859.5,884.5 1859.5,917.5" fill="#00CBCC"/>
<polygon points="1869,933 1897.5,916.5 1897.5,949.5" fill="#00CBCC"/>
<polygon points="1897.5,961 1926,944.5 1926,977.5" fill="#00CBCC"/>
<polygon points="1923,983 1951.5,966.5 1951.5,999.5" fill="#00CBCC"/>
<polygon points="1949,1009 1977.5,992.5 1977.5,1025.5" fill="#00CBCC"/>
<polygon points="1959,1016 1987.5,999.5 1987.5,1032.5" fill="#00CBCC"/>
<polygon points="713,307.6 741.5,291.1 741.5,324.1" fill="#333"/>
</g></g>
</g>
<rect x="1332.5" y="105.5" width="596" height="434" fill="#fff" stroke="#cfcfcf" stroke-width="2"/>
<line x1="1339" y1="217.5" x2="1478" y2="217.5" stroke="#515151" stroke-width="8.8" stroke-linecap="round"/>
<g stroke="#3b3b3b" stroke-width="3.0"><rect x="1394.8" y="204" width="27" height="27" fill="#515151"/></g>
<line x1="1339" y1="287.8" x2="1478" y2="287.8" stroke="#1A6FDF" stroke-width="8.8" stroke-linecap="round"/>
<g stroke="#3b3b3b" stroke-width="3.0"><polygon points="1408.3,267.5 1426.3,298.7 1390.3,298.7" fill="#1A6FDF"/></g>
<line x1="1339" y1="358.3" x2="1478" y2="358.3" stroke="#6FB802" stroke-width="8.8" stroke-linecap="round"/>
<g stroke="#3b3b3b" stroke-width="3.0"><polygon points="1408.3,341 1423.3,349.7 1423.3,366.9 1408.3,375.6 1393.3,367 1393.3,349.7" fill="#6FB802"/></g>
<line x1="1339" y1="428.5" x2="1478" y2="428.5" stroke="#F14040" stroke-width="8.8" stroke-linecap="round"/>
<g stroke="#3b3b3b" stroke-width="3.0"><circle cx="1408.3" cy="428.5" r="15.2" fill="#F14040"/></g>
<line x1="1339" y1="498.8" x2="1478" y2="498.8" stroke="#00CBCC" stroke-width="8.8" stroke-linecap="round"/>
<g stroke="#3b3b3b" stroke-width="3.0"><polygon points="1389,498.8 1420.2,480.8 1420.2,516.8" fill="#00CBCC"/></g>
<text x="1519" y="167.3" font-size="53" textLength="117.5" lengthAdjust="spacingAndGlyphs">Type</text>
<text x="1833.5" y="167.3" font-size="53" textLength="72" lengthAdjust="spacingAndGlyphs" font-style="italic">L/B</text>
<text x="1508" y="237.3" font-size="53" textLength="302.5" lengthAdjust="spacingAndGlyphs">Unreinforced</text>
<text x="1506" y="307.5" font-size="53" textLength="185.5" lengthAdjust="spacingAndGlyphs">Geogrid</text>
<text x="1839" y="307.5" font-size="53" textLength="63" lengthAdjust="spacingAndGlyphs">2.7</text>
<text x="1506" y="378" font-size="53" textLength="185.5" lengthAdjust="spacingAndGlyphs">Geogrid</text>
<text x="1876" y="378" font-size="53" textLength="25" lengthAdjust="spacingAndGlyphs">4</text>
<text x="1507" y="448.3" font-size="53" textLength="296" lengthAdjust="spacingAndGlyphs">H–V geogrid</text>
<text x="1857.5" y="448.3" font-size="53" textLength="63" lengthAdjust="spacingAndGlyphs">2.7</text>
<text x="1507" y="518.6" font-size="53" textLength="296" lengthAdjust="spacingAndGlyphs">H–V geogrid</text>
<text x="1896" y="518.6" font-size="53" textLength="25" lengthAdjust="spacingAndGlyphs">4</text>
<g font-size="64">
<text x="223" y="69.9" text-anchor="end" textLength="32" lengthAdjust="spacingAndGlyphs">0</text>
<text x="223" y="162.4" text-anchor="end" textLength="65.5" lengthAdjust="spacingAndGlyphs">−2</text>
<text x="223" y="254.8" text-anchor="end" textLength="65.5" lengthAdjust="spacingAndGlyphs">−4</text>
<text x="223" y="347.3" text-anchor="end" textLength="65.5" lengthAdjust="spacingAndGlyphs">−6</text>
<text x="223" y="439.7" text-anchor="end" textLength="65.5" lengthAdjust="spacingAndGlyphs">−8</text>
<text x="223" y="532.2" text-anchor="end" textLength="98" lengthAdjust="spacingAndGlyphs">−10</text>
<text x="223" y="624.6" text-anchor="end" textLength="98" lengthAdjust="spacingAndGlyphs">−12</text>
<text x="223" y="717.1" text-anchor="end" textLength="98" lengthAdjust="spacingAndGlyphs">−14</text>
<text x="223" y="809.5" text-anchor="end" textLength="98" lengthAdjust="spacingAndGlyphs">−16</text>
<text x="223" y="902" text-anchor="end" textLength="98" lengthAdjust="spacingAndGlyphs">−18</text>
<text x="223" y="994.4" text-anchor="end" textLength="98" lengthAdjust="spacingAndGlyphs">−20</text>
<text x="223" y="1086.9" text-anchor="end" textLength="98" lengthAdjust="spacingAndGlyphs">−22</text>
<text x="223" y="1179.3" text-anchor="end" textLength="98" lengthAdjust="spacingAndGlyphs">−24</text>
<text x="223" y="1271.8" text-anchor="end" textLength="98" lengthAdjust="spacingAndGlyphs">−26</text>
<text x="223" y="1364.2" text-anchor="end" textLength="98" lengthAdjust="spacingAndGlyphs">−28</text>
<text x="223" y="1456.7" text-anchor="end" textLength="98" lengthAdjust="spacingAndGlyphs">−30</text>
<text x="253" y="1517" text-anchor="middle" textLength="32" lengthAdjust="spacingAndGlyphs">0</text>
<text x="539.9" y="1517" text-anchor="middle" textLength="66" lengthAdjust="spacingAndGlyphs">50</text>
<text x="826.8" y="1517" text-anchor="middle" textLength="98.5" lengthAdjust="spacingAndGlyphs">100</text>
<text x="1113.8" y="1517" text-anchor="middle" textLength="98.5" lengthAdjust="spacingAndGlyphs">150</text>
<text x="1400.7" y="1517" text-anchor="middle" textLength="98.5" lengthAdjust="spacingAndGlyphs">200</text>
<text x="1687.6" y="1517" text-anchor="middle" textLength="98.5" lengthAdjust="spacingAndGlyphs">250</text>
<text x="1974.5" y="1517" text-anchor="middle" textLength="98.5" lengthAdjust="spacingAndGlyphs">300</text>
</g>
<text y="1648.5" font-size="76" font-weight="bold"><tspan x="1025" font-style="italic">p</tspan><tspan x="1060.5" textLength="146" lengthAdjust="spacingAndGlyphs">/kPa</tspan></text>
<text transform="translate(70.5,749) rotate(-90)" font-size="74" font-weight="bold" text-anchor="middle" textLength="177" lengthAdjust="spacingAndGlyphs"><tspan font-style="italic">s</tspan>/mm</text>
</svg></body></html>
